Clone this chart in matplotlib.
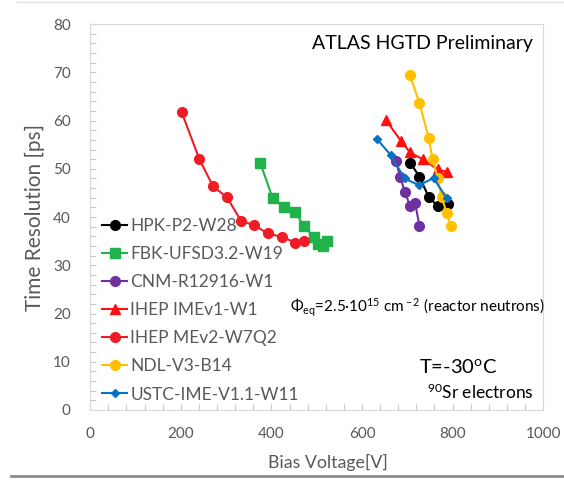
import matplotlib.pyplot as plt
from matplotlib.ticker import MultipleLocator
from matplotlib.lines import Line2D

# Dados (tensão de bias [V], resolução temporal [ps])
hpk_v = [706, 727, 747, 767, 789]
hpk_t = [51.3, 48.4, 44.2, 42.3, 42.8]

fbk_v = [375, 403, 428, 453, 472, 493, 502, 514, 523]
fbk_t = [51.3, 43.9, 42.0, 41.0, 38.1, 35.9, 34.5, 34.0, 35.1]

cnm_v = [675, 684, 695, 706, 717, 727]
cnm_t = [51.6, 48.4, 45.2, 42.3, 43.0, 38.2]

ime_v = [653, 686, 706, 734, 767, 787]
ime_t = [60.1, 55.8, 53.4, 52.0, 49.9, 49.4]

mev2_v = [202, 241, 271, 302, 333, 362, 392, 423, 453, 472]
mev2_t = [61.7, 52.0, 46.4, 44.1, 39.2, 38.3, 36.6, 35.9, 34.7, 35.0]

ndl_v = [706, 727, 747, 756, 767, 776, 787, 796]
ndl_t = [69.4, 63.6, 56.5, 52.0, 48.2, 44.1, 40.9, 38.2]

ustc_v = [633, 664, 694, 726, 758, 787]
ustc_t = [56.2, 52.8, 48.0, 46.6, 48.1, 43.9]

labels = ['HPK-P2-W28', 'FBK-UFSD3.2-W19', 'CNM-R12916-W1', 'IHEP IMEv1-W1',
          'IHEP MEv2-W7Q2', 'NDL-V3-B14', 'USTC-IME-V1.1-W11']
colors = ['#000000', '#21B24B', '#7030A0', '#FF1010', '#EE1C25', '#FFC000', '#0A72C2']
markers = ['o', 's', 'o', '^', 'o', 'o', 'D']
msizes = [7, 7, 7, 7, 7, 7, 4.5]

series = [(hpk_v, hpk_t), (fbk_v, fbk_t), (cnm_v, cnm_t), (ime_v, ime_t),
          (mev2_v, mev2_t), (ndl_v, ndl_t), (ustc_v, ustc_t)]

plt.rcParams['font.family'] = ['Lato', 'DejaVu Sans']
plt.rcParams['mathtext.fontset'] = 'custom'
plt.rcParams['mathtext.rm'] = 'Lato'
plt.rcParams['mathtext.it'] = 'Lato:italic'

fig = plt.figure(figsize=(5.64, 4.84), dpi=100)
ax = fig.add_axes([0.16, 0.153, 0.803, 0.797])

for (v, t), lab, c, m, ms in zip(series, labels, colors, markers, msizes):
    ax.plot(v, t, color=c, marker=m, markersize=ms, linewidth=1.5, label=lab)

ax.set_xlim(0, 1000)
ax.set_ylim(0, 80)
ax.xaxis.set_major_locator(MultipleLocator(200))
ax.xaxis.set_minor_locator(MultipleLocator(40))
ax.yaxis.set_major_locator(MultipleLocator(10))
ax.yaxis.set_minor_locator(MultipleLocator(2))

grey = '#595959'
for s in ax.spines.values():
    s.set_color('#d9d9d9')
ax.tick_params(which='both', direction='in', color='#c8c8c8', labelcolor=grey,
               labelsize=11, length=4, width=0.8)
ax.tick_params(axis='x', pad=12)
ax.tick_params(axis='y', pad=14)

ax.set_xlabel('Bias Voltage[V]', fontsize=12.8, color=grey, labelpad=5)
ax.xaxis.set_label_coords(0.525, -0.115)
ax.set_ylabel('Time Resolution [ps]', fontsize=15, color=grey, labelpad=6)

# legenda só com marcador e traço curto
handles = [Line2D([0], [0], color=c, marker=m, markersize=ms, linewidth=1.5)
           for c, m, ms in zip(colors, markers, msizes)]
ax.legend(handles, labels, loc='upper left', bbox_to_anchor=(0.0, 0.53),
          frameon=False, fontsize=12.5, labelcolor=grey, handlelength=1.4,
          handletextpad=0.2, labelspacing=0.7, borderaxespad=0.3)

ax.text(0.978, 0.951, 'ATLAS HGTD Preliminary', transform=ax.transAxes,
        ha='right', va='center', fontsize=14, color='black')
ax.text(0.441, 0.264, r'$\Phi_{\rm eq}$=2.5·10$^{15}$ cm$^{\rm -2}$ (reactor neutrons)',
        transform=ax.transAxes, ha='left', va='center', fontsize=11, color='black')
ax.text(0.725, 0.112, r'T=-30$^{\rm o}$C', transform=ax.transAxes,
        ha='left', va='center', fontsize=14.5, color='black')
ax.text(0.978, 0.047, r'$^{\rm 90}$Sr electrons', transform=ax.transAxes,
        ha='right', va='center', fontsize=12.5, color='black')

# linhas da moldura da captura de tela
fig.add_artist(Line2D([0.03, 1], [0.995, 0.995], color='#e0e0e0', linewidth=1))
fig.add_artist(Line2D([0.02, 1], [0.017, 0.017], color='#8c8c8c', linewidth=2))

fig.savefig('out.png', dpi=100)
